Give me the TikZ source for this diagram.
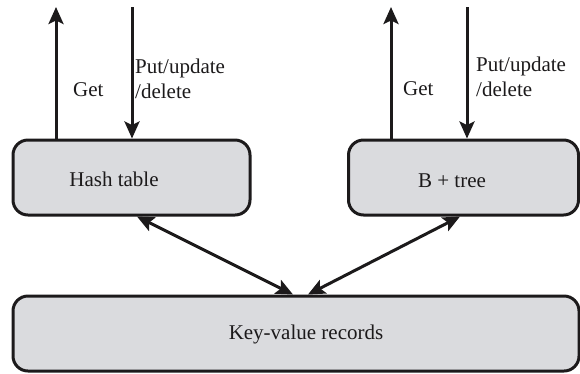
\documentclass[tikz,border=0pt]{standalone}
\usepackage{fontspec}
\setmainfont{Liberation Serif}
\usetikzlibrary{arrows.meta}
\definecolor{boxgray}{RGB}{218,219,222}
\definecolor{ink}{RGB}{28,26,27}
\begin{document}
\begin{tikzpicture}[x=1pt,y=-1pt,
  box/.style={draw=ink, line width=3pt, fill=boxgray, rounded corners=15pt, inner sep=0pt},
  txt/.style={inner sep=0pt, anchor=base west, font=\fontsize{21}{24}\selectfont, text=ink},
  arr/.style={draw=ink, line width=3pt, -{Stealth[length=17pt,width=15pt,inset=3.5pt]}},
  darr/.style={draw=ink, line width=3pt, {Stealth[length=17pt,width=15pt,inset=3.5pt]}-{Stealth[length=17pt,width=15pt,inset=3.5pt]}}]
\useasboundingbox (0,0) rectangle (580,373);
% boxes
\node[box, minimum width=237pt, minimum height=75pt] (ht) at (131.5,177.5) {};
\node[box, minimum width=230pt, minimum height=75pt] (bt) at (463.5,177.5) {};
\node[box, minimum width=566pt, minimum height=75pt] (kv) at (296,333.5) {};
% box texts
\node[txt, anchor=base] (htt) at (114,186) {Hash table};
\node[txt, anchor=base] (btt) at (452,187) {B + tree};
\node[txt, anchor=base] (kvt) at (306,339) {Key-value records};
% top coordinates
\coordinate (g1) at (56,7);
\coordinate (p1) at (132,7);
\coordinate (g2) at (391,7);
\coordinate (p2) at (467,7);
\draw[arr] (ht.north -| g1) -- (g1);
\draw[arr] (p1) -- (ht.north -| p1);
\draw[arr] (bt.north -| g2) -- (g2);
\draw[arr] (p2) -- (bt.north -| p2);
% labels
\node[txt] (lg1) at (73,96) {Get};
\node[txt] (lp1a) at (135,73) {Put/update};
\node[txt] (lp1b) at (135,98) {/delete};
\node[txt] (lg2) at (403,95) {Get};
\node[txt] (lp2a) at (476,71) {Put/update};
\node[txt] (lp2b) at (476,96) {/delete};
% bottom arrows
\coordinate (a1) at (137,0);
\coordinate (a2) at (460,0);
\coordinate (b1) at (293,0);
\coordinate (b2) at (308,0);
\draw[darr] (ht.south -| a1) -- (kv.north -| b1);
\draw[darr] (bt.south -| a2) -- (kv.north -| b2);
\end{tikzpicture}
\end{document}
